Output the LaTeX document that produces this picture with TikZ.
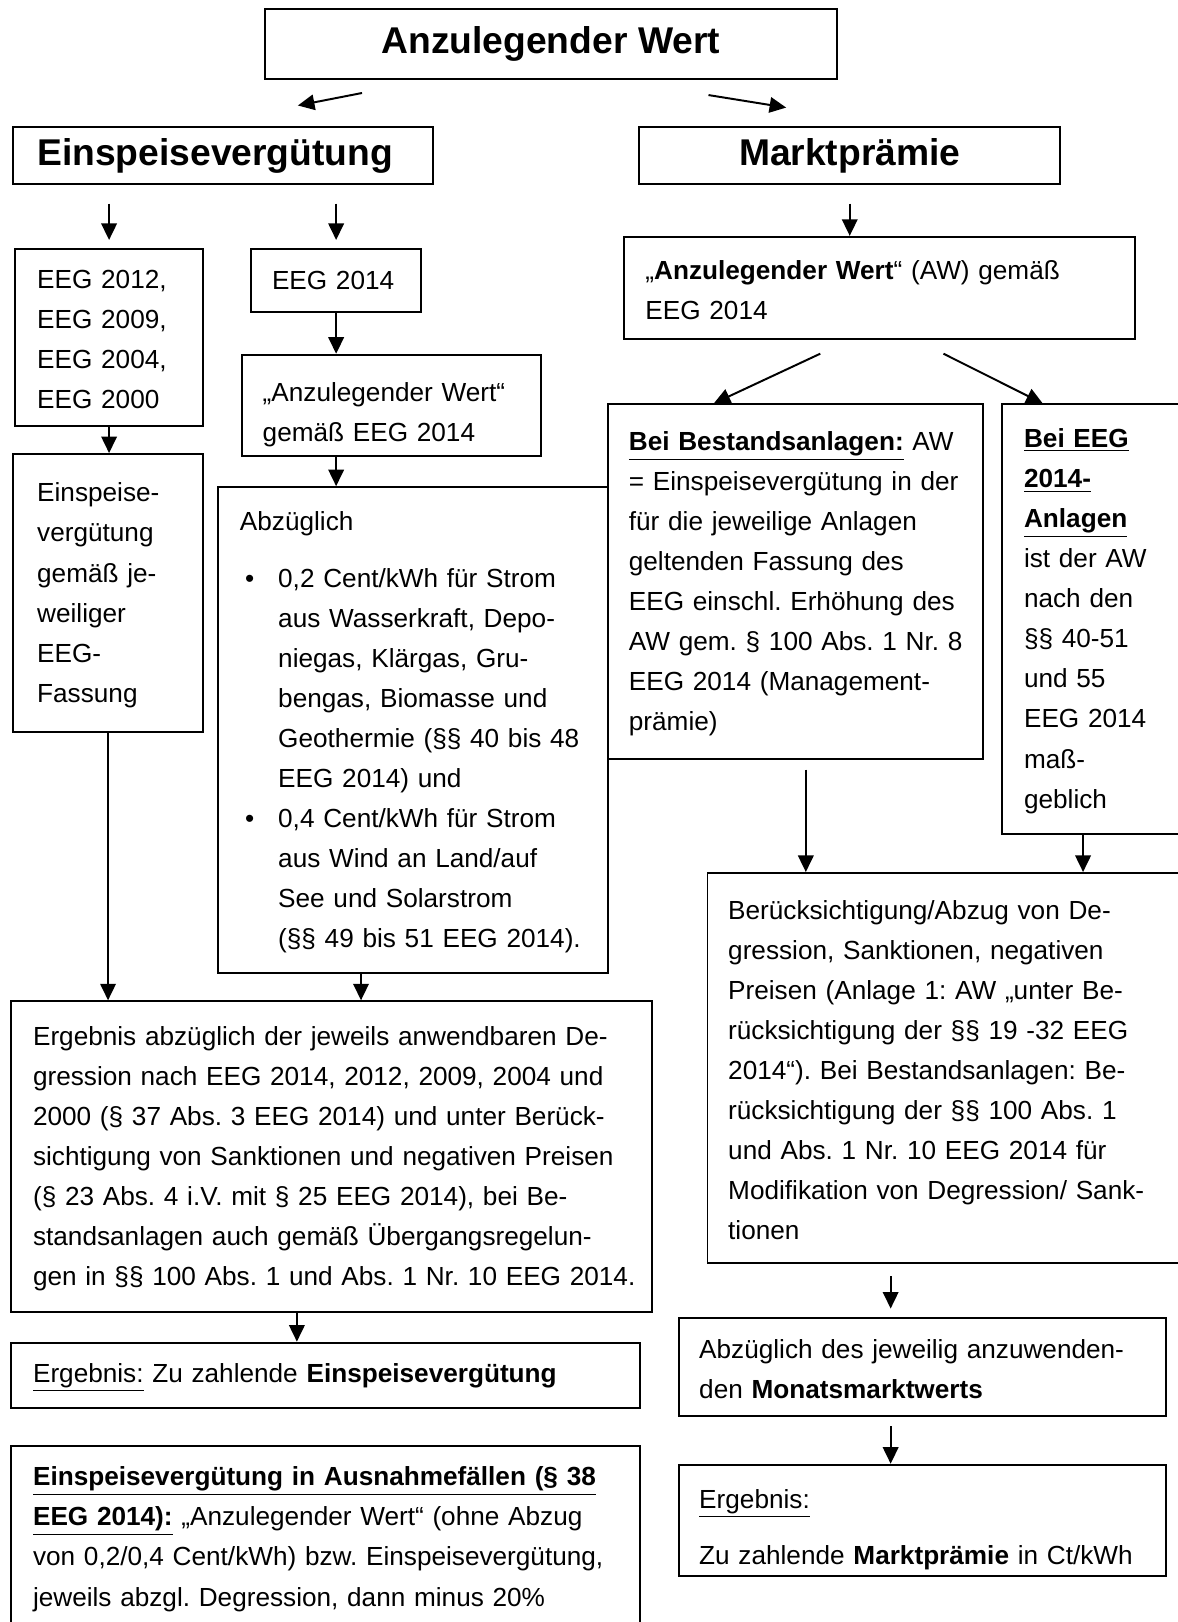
\documentclass[tikz,border=0pt]{standalone}
\usepackage{fontspec}
\setmainfont{Liberation Sans}
\usetikzlibrary{arrows.meta,positioning}
\newcommand{\ebullet}{\hspace*{2.5pt}\makebox[16pt][l]{\textbullet}}
\newcommand{\eindent}{\hspace*{18.5pt}}
\tikzset{
  ebox/.style={rectangle, draw=black, line width=0.95pt, fill=white, anchor=north west, align=left, inner sep=0pt, inner xsep=10pt, font=\fontsize{12.65pt}{19.35pt}\selectfont\frenchspacing, execute at begin node={\rightskip=0pt plus 1fil minus 14pt}, execute at end node={\par\kern-2pt}},
  headbox/.style={rectangle, draw=black, line width=0.95pt, fill=white, anchor=north west, inner sep=0pt, font=\fontsize{18pt}{22pt}\selectfont\bfseries},
  earrow/.style={-{Triangle[length=8pt,width=7.5pt]}, line width=0.95pt, black}
}

\begin{document}
\begin{tikzpicture}[x=0.5pt, y=-0.5pt]
  \useasboundingbox (0,0) rectangle (1138,1568);
  % Kopf
  \node[headbox, minimum width=276.5pt, minimum height=33.5pt] (aw) at (255,8) {Anzulegender Wert};
  \node[headbox, align=left, minimum width=203pt, minimum height=27.5pt, inner xsep=11.5pt, text width=180pt] (einsp) at (12,122) {Einspeisevergütung};
  \node[headbox, minimum width=203.5pt, minimum height=27.5pt] (markt) at (617,122) {Marktprämie};

  % Einspeiseverguetung
  \node[ebox, minimum width=90.5pt, minimum height=85.5pt, inner xsep=10.5pt, text width=69.5pt] (eeg12) at (14,240) {EEG 2012,\\EEG 2009,\\EEG 2004,\\EEG 2000};
  \node[ebox, minimum width=82pt, minimum height=30.5pt, text width=62pt] (eeg14) at (242,240) {EEG 2014};
  \node[ebox, minimum width=144.5pt, minimum height=49pt, text width=124.5pt, execute at end node={\par\kern-7pt}] (awlinks) at (233,342) {„Anzulegender Wert“\\gemäß EEG 2014};
  \node[ebox, minimum width=91.5pt, minimum height=134.5pt, inner xsep=11.5pt, text width=68.5pt] (evfass) at (12,438) {Einspeise-\\vergütung\\gemäß je-\\weiliger\\EEG-\\Fassung};
  \node[ebox, minimum width=188.5pt, minimum height=235pt, inner xsep=10.5pt, text width=167.5pt] (abzug) at (210,470) {Abzüglich\\[8pt]
    \ebullet 0,2 Cent/kWh für Strom\\
    \eindent aus Wasserkraft, Depo-\\
    \eindent niegas, Klärgas, Gru-\\
    \eindent bengas, Biomasse und\\
    \eindent Geothermie (§§ 40 bis 48\\
    \eindent EEG 2014) und\\
    \ebullet 0,4 Cent/kWh für Strom\\
    \eindent aus Wind an Land/auf\\
    \eindent See und Solarstrom\\
    \eindent (§§ 49 bis 51 EEG 2014).};
  \node[ebox, minimum width=309.5pt, minimum height=150pt, inner xsep=10.5pt, text width=288.5pt] (degr) at (10,967) {Ergebnis abzüglich der jeweils anwendbaren De-\\gression nach EEG 2014, 2012, 2009, 2004 und\\2000 (§ 37 Abs. 3 EEG 2014) und unter Berück-\\sichtigung von Sanktionen und negativen Preisen\\(§ 23 Abs. 4 i.V. mit § 25 EEG 2014), bei Be-\\standsanlagen auch gemäß Übergangsregelun-\\gen in §§ 100 Abs. 1 und Abs. 1 Nr. 10 EEG 2014.};
  \node[ebox, minimum width=304pt, minimum height=31.5pt, inner xsep=10.5pt, text width=283pt] (everg) at (10,1297) {\underline{Ergebnis:} Zu zahlende \textbf{Einspeisevergütung}};
  \node[ebox, minimum width=304pt, minimum height=88pt, inner xsep=10.5pt, text width=283pt] (ausnahme) at (10,1397) {\underline{\textbf{Einspeisevergütung in Ausnahmefällen (§ 38}}\\\underline{\textbf{EEG 2014):}} „Anzulegender Wert“ (ohne Abzug\\von 0,2/0,4 Cent/kWh) bzw. Einspeisevergütung,\\jeweils abzgl. Degression, dann minus 20\%};

  % Marktpraemie
  \node[ebox, minimum width=247pt, minimum height=49.5pt, inner xsep=10.5pt, text width=226pt] (awrechts) at (602,228) {„\textbf{Anzulegender Wert}“ (AW) gemäß\\EEG 2014};
  \node[ebox, minimum width=181pt, minimum height=171.5pt, text width=161pt] (bestand) at (587,390) {\underline{\textbf{Bei Bestandsanlagen:}} AW\\= Einspeisevergütung in der\\für die jeweilige Anlagen\\geltenden Fassung des\\EEG einschl. Erhöhung des\\AW gem. § 100 Abs. 1 Nr. 8\\EEG 2014 (Management-\\prämie)};
  \node[ebox, minimum width=96pt, minimum height=207.5pt, inner xsep=10.5pt, text width=75pt] (neu) at (968,390) {\underline{\textbf{Bei EEG}}\\\underline{\textbf{2014-}}\\\underline{\textbf{Anlagen}}\\ist der AW\\nach den\\§§ 40-51\\und 55\\EEG 2014\\maß-\\geblich};
  \node[ebox, minimum width=238.5pt, minimum height=188.5pt, text width=218.5pt] (beruecks) at (683,843) {Berücksichtigung/Abzug von De-\\gression, Sanktionen, negativen\\Preisen (Anlage 1: AW „unter Be-\\rücksichtigung der §§ 19 -32 EEG\\2014“). Bei Bestandsanlagen: Be-\\rücksichtigung der §§ 100 Abs. 1\\und Abs. 1 Nr. 10 EEG 2014 für\\Modifikation von Degression/ Sank-\\tionen};
  \node[ebox, minimum width=235.5pt, minimum height=47.5pt, text width=215.5pt] (monat) at (655,1273) {Abzüglich des jeweilig anzuwenden-\\den \textbf{Monatsmarktwerts}};
  \node[ebox, minimum width=235.5pt, minimum height=54pt, text width=215.5pt, execute at end node={\par\kern-7pt}] (mpergebnis) at (655,1415) {\underline{Ergebnis:}\\[8pt]Zu zahlende \textbf{Marktprämie} in Ct/kWh};

  % Pfeile
  \draw[earrow] ([xshift=47.5pt,yshift=-6.5pt]aw.south west) -- ([xshift=138pt,yshift=10pt]einsp.north west);
  \draw[earrow] ([xshift=-62.5pt,yshift=-7.5pt]aw.south east) -- ([xshift=71.5pt,yshift=9pt]markt.north west);
  \draw[earrow, shorten <=9pt, shorten >=4pt] (einsp.south -| eeg12.north) -- (eeg12.north);
  \draw[earrow, shorten <=9pt, shorten >=4pt] (einsp.south -| eeg14.north) -- (eeg14.north);
  \draw[earrow] (eeg14.south) -- (eeg14.south |- awlinks.north);
  \draw[earrow] (eeg14.south |- awlinks.south) -- (eeg14.south |- abzug.north);
  \draw[earrow] (eeg12.south) -- (eeg12.south |- evfass.north);
  \draw[earrow] (evfass.south) -- (evfass.south |- degr.north);
  \draw[earrow] ([xshift=69.5pt]abzug.south west) -- ([xshift=69.5pt]abzug.south west |- degr.north);
  \draw[earrow] ([xshift=138.5pt]degr.south west) -- ([xshift=138.5pt]degr.south west |- everg.north);
  \draw[earrow, shorten <=9pt] (markt.south) -- (markt.south |- awrechts.north);
  \draw[earrow] ([xshift=95.5pt,yshift=-6.5pt]awrechts.south west) -- ([xshift=51.5pt]bestand.north west);
  \draw[earrow] ([xshift=155pt,yshift=-6.5pt]awrechts.south west) -- ([xshift=20pt]neu.north west);
  \draw[earrow, shorten <=4.5pt] ([xshift=96pt]bestand.south west) -- ([xshift=96pt]bestand.south west |- beruecks.north);
  \draw[earrow] ([xshift=39.5pt]neu.south west) -- ([xshift=39.5pt]neu.south west |- beruecks.north);
  \draw[earrow, shorten <=6pt, shorten >=4pt] ([xshift=103pt]monat.north west |- beruecks.south) -- ([xshift=103pt]monat.north west);
  \draw[earrow, shorten <=4.5pt] ([xshift=103pt]monat.south west) -- ([xshift=103pt]monat.south west |- mpergebnis.north);
\end{tikzpicture}
\end{document}
